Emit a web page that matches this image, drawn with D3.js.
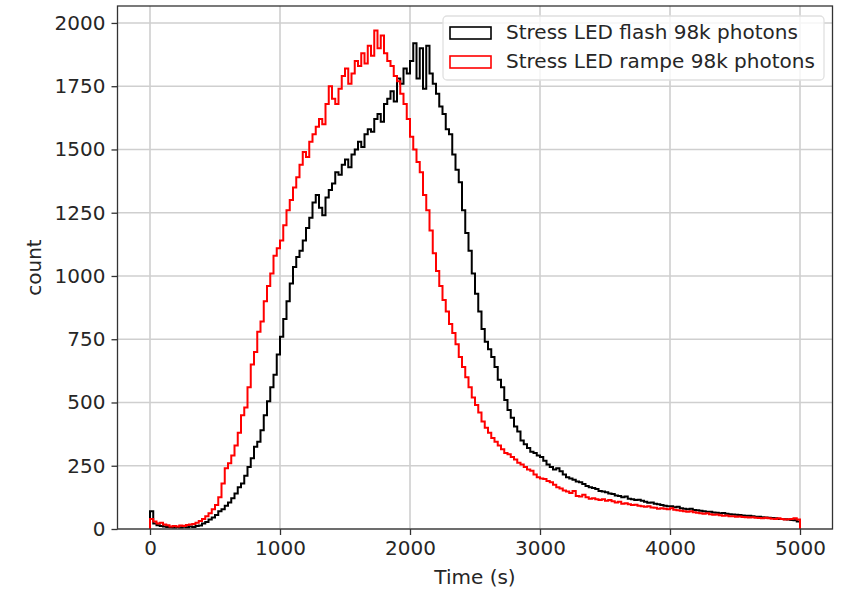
<!DOCTYPE html>
<html>
<head>
<meta charset="utf-8">
<script src="https://cdn.jsdelivr.net/npm/d3@7"></script>
<style>
  body { margin: 0; background: #fff; }
  text { font-family: 'DejaVu Sans', sans-serif; }
</style>
</head>
<body>
<div id="chart"></div>
<script>
var binWidth = 25;
var xTicks = [0, 1000, 2000, 3000, 4000, 5000];
var yTicks = [0, 250, 500, 750, 1000, 1250, 1500, 1750, 2000];
var seriesNames = ['Stress LED flash 98k photons', 'Stress LED rampe 98k photons'];

// counts per 25 s bin, 0 .. 5000 s
var flash = [
    70, 22, 15, 12, 10, 8, 7, 6, 8, 6, 9, 7, 10, 8, 12, 14, 22, 28, 38, 45,
    55, 70, 78, 92, 105, 122, 140, 165, 180, 210, 245, 280, 325, 345, 390, 450, 505, 560, 610, 690,
    760, 830, 900, 970, 1035, 1075, 1100, 1140, 1190, 1230, 1290, 1320, 1270, 1240, 1310, 1340, 1365, 1410, 1400, 1440,
    1460, 1430, 1480, 1500, 1530, 1510, 1560, 1580, 1570, 1620, 1640, 1610, 1680, 1700, 1730, 1690, 1780, 1760, 1820, 1800,
    1850, 1920, 1780, 1900, 1740, 1910, 1800, 1760, 1720, 1670, 1640, 1580, 1560, 1480, 1420, 1370, 1260, 1170, 1100, 1010,
    930, 860, 790, 740, 710, 680, 640, 590, 560, 510, 470, 440, 405, 385, 350, 335, 320, 305, 300, 290,
    285, 270, 255, 245, 235, 240, 228, 215, 205, 200, 195, 188, 185, 178, 170, 165, 162, 158, 150, 148,
    145, 140, 138, 132, 130, 125, 128, 120, 118, 115, 116, 112, 108, 104, 105, 100, 98, 95, 92, 90,
    90, 86, 88, 82, 80, 78, 80, 75, 74, 72, 70, 68, 68, 65, 64, 62, 63, 60, 58, 57,
    56, 55, 53, 52, 52, 50, 48, 48, 46, 45, 44, 43, 42, 40, 40, 39, 38, 36, 35, 30
];
var rampe = [
    40, 30, 22, 25, 18, 15, 10, 12, 10, 14, 12, 16, 18, 20, 25, 32, 40, 50, 62, 78,
    95, 125, 180, 240, 260, 290, 330, 380, 450, 480, 560, 650, 700, 780, 820, 900, 960, 1010, 1080, 1110,
    1140, 1200, 1260, 1300, 1350, 1390, 1440, 1490, 1470, 1530, 1560, 1590, 1620, 1600, 1680, 1750, 1700, 1680, 1740, 1790,
    1820, 1760, 1800, 1850, 1830, 1880, 1840, 1910, 1870, 1970, 1900, 1950, 1880, 1850, 1830, 1790, 1770, 1720, 1680, 1620,
    1550, 1500, 1450, 1410, 1320, 1260, 1180, 1090, 1020, 960, 905, 860, 810, 775, 730, 680, 640, 600, 560, 520,
    490, 460, 425, 400, 380, 360, 345, 330, 315, 300, 295, 285, 275, 262, 255, 245, 235, 230, 215, 205,
    200, 198, 190, 185, 175, 165, 160, 152, 148, 142, 150, 130, 128, 135, 125, 120, 122, 118, 115, 118,
    112, 115, 110, 105, 108, 100, 102, 98, 95, 96, 92, 90, 88, 90, 85, 84, 80, 82, 80, 78,
    82, 76, 74, 72, 70, 68, 70, 66, 64, 62, 60, 62, 58, 56, 57, 54, 52, 53, 50, 50,
    48, 49, 47, 46, 45, 46, 44, 43, 42, 44, 42, 41, 40, 42, 40, 38, 39, 40, 42, 38
];
var colors = ['#000000', '#ff0000'];

var width = 846, height = 590;
var margin = {top: 6, right: 13.5, bottom: 61, left: 117.5};
var fontSize = '20px';
var textColor = '#262626';

var svg = d3.select('#chart').append('svg')
    .attr('width', width)
    .attr('height', height)
    .style('background', '#fff');

var x = d3.scaleLinear()
    .domain([-250, 5250])
    .range([margin.left, width - margin.right]);

var y = d3.scaleLinear()
    .domain([0, 2067])
    .range([height - margin.bottom, margin.top]);

// grid
svg.append('g')
    .selectAll('line')
    .data(xTicks)
    .enter().append('line')
    .attr('x1', d => x(d)).attr('x2', d => x(d))
    .attr('y1', margin.top).attr('y2', height - margin.bottom)
    .style('stroke', '#cfcfcf')
    .style('stroke-width', 1.6);

svg.append('g')
    .selectAll('line')
    .data(yTicks)
    .enter().append('line')
    .attr('x1', margin.left).attr('x2', width - margin.right)
    .attr('y1', d => y(d)).attr('y2', d => y(d))
    .style('stroke', '#cfcfcf')
    .style('stroke-width', 1.6);

// step outline of a histogram
function stepPath(counts) {
    var pts = [[0, 0]];
    counts.forEach(function(c, i) {
        pts.push([i * binWidth, c]);
        pts.push([(i + 1) * binWidth, c]);
    });
    pts.push([counts.length * binWidth, 0]);
    return d3.line()
        .x(d => x(d[0]))
        .y(d => y(d[1]))(pts);
}

[flash, rampe].forEach(function(s, i) {
    svg.append('path')
        .attr('d', stepPath(s))
        .style('fill', 'none')
        .style('stroke', colors[i])
        .style('stroke-width', 2);
});

// axes
var xAxis = d3.axisBottom(x)
    .tickValues(xTicks)
    .tickSize(6)
    .tickPadding(6)
    .tickFormat(d3.format('d'));
var yAxis = d3.axisLeft(y)
    .tickValues(yTicks)
    .tickSize(6)
    .tickPadding(6)
    .tickFormat(d3.format('d'));

var gx = svg.append('g')
    .attr('transform', `translate(0, ${height - margin.bottom})`)
    .call(xAxis);
var gy = svg.append('g')
    .attr('transform', `translate(${margin.left}, 0)`)
    .call(yAxis);

[gx, gy].forEach(function(g) {
    g.select('.domain').remove();
    g.selectAll('.tick line').style('stroke', '#333').style('stroke-width', 1.3);
    g.selectAll('.tick text')
        .style('font-family', "'DejaVu Sans', sans-serif")
        .style('font-size', fontSize)
        .style('fill', textColor);
});

// frame
svg.append('rect')
    .attr('x', margin.left)
    .attr('y', margin.top)
    .attr('width', width - margin.left - margin.right)
    .attr('height', height - margin.top - margin.bottom)
    .style('fill', 'none')
    .style('stroke', '#333')
    .style('stroke-width', 1.3);

// axis labels
svg.append('text')
    .attr('x', x(2500))
    .attr('y', 584)
    .attr('text-anchor', 'middle')
    .style('font-size', fontSize)
    .style('fill', textColor)
    .text('Time (s)');

svg.append('text')
    .attr('transform', `translate(41, ${(margin.top + height - margin.bottom) / 2}) rotate(-90)`)
    .attr('text-anchor', 'middle')
    .style('font-size', fontSize)
    .style('fill', textColor)
    .text('count');

// legend
var gLegend = svg.append('g')
    .attr('transform', 'translate(443, 16)');
gLegend.append('rect')
    .attr('width', 381)
    .attr('height', 64)
    .attr('rx', 4)
    .style('fill', '#fff')
    .style('fill-opacity', 0.8)
    .style('stroke', '#e0e0e0')
    .style('stroke-width', 1.3);

seriesNames.forEach(function(name, i) {
    var row = gLegend.append('g')
        .attr('transform', `translate(0, ${i * 29})`);
    row.append('rect')
        .attr('x', 7)
        .attr('y', 11)
        .attr('width', 41)
        .attr('height', 12)
        .style('fill', 'none')
        .style('stroke', colors[i])
        .style('stroke-width', 1.6);
    row.append('text')
        .attr('x', 63)
        .attr('y', 23)
        .style('font-size', fontSize)
        .style('fill', textColor)
        .text(name);
});
</script>
</body>
</html>
